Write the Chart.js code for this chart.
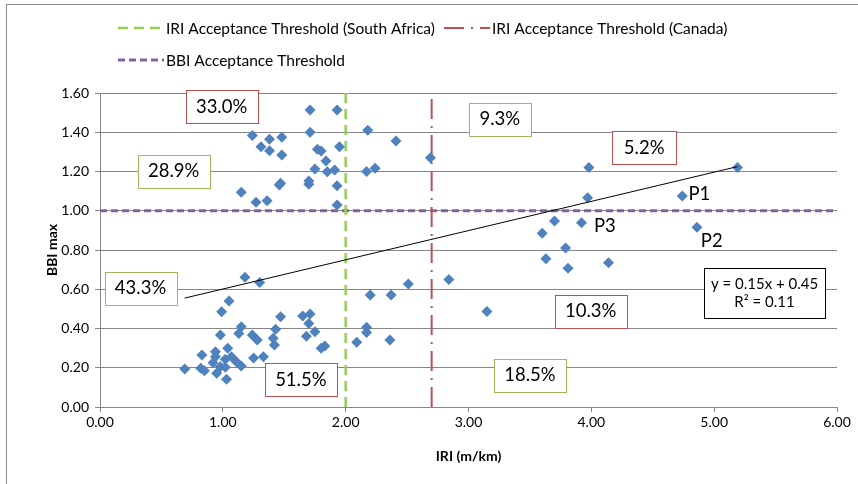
<!DOCTYPE html>
<html>
<head>
<meta charset="utf-8">
<script src="https://cdn.jsdelivr.net/npm/chart.js@4.4.0/dist/chart.umd.min.js"></script>
<style>
body { margin: 0; background: #fff; }
#wrap { position: relative; width: 858px; height: 484px; overflow: hidden; }
#frame { position: absolute; left: 6px; top: 4px; width: 900px; height: 600px; border: 1px solid #8c8c8c; }
#chart { position: absolute; left: 0; top: 0; }
</style>
</head>
<body>
<div id="wrap"><div id="frame"></div><canvas id="chart" width="858" height="484"></canvas></div>
<script>
// measured points (IRI, BBI max)
let iriValues = [
    1.24, 1.71, 1.93, 1.71, 1.38, 1.48, 1.31, 1.38, 1.48, 1.77, 1.80, 1.95, 1.84, 1.75, 1.85, 1.91,
    1.70, 1.70, 1.46, 1.47, 1.93, 1.15, 1.27, 1.36, 1.93,
    2.18, 2.41, 2.17, 2.24, 2.69,
    3.98, 3.97, 5.19, 4.74,
    3.70, 3.92, 3.60, 4.86, 3.79, 3.63, 3.81, 4.14,
    2.84, 3.15, 2.51, 2.20, 2.37, 2.17, 2.17, 2.09, 2.36,
    1.18, 1.30, 1.05, 0.99, 1.47, 1.65, 1.71, 1.70, 1.15, 1.43, 0.98, 1.13, 1.24, 1.28, 1.41, 1.42,
    1.75, 1.68, 1.83, 1.80, 0.83, 0.94, 1.04, 1.02, 0.94, 1.07, 0.92, 1.11, 0.98, 0.69, 0.82, 0.85,
    1.15, 0.95, 1.03, 1.25, 1.33, 1.02
];
let bbiValues = [
    1.383, 1.513, 1.513, 1.400, 1.364, 1.374, 1.326, 1.306, 1.284, 1.313, 1.304, 1.326, 1.253, 1.213, 1.199, 1.208,
    1.152, 1.135, 1.131, 1.140, 1.128, 1.094, 1.043, 1.051, 1.029,
    1.410, 1.355, 1.200, 1.216, 1.270,
    1.220, 1.066, 1.220, 1.075,
    0.948, 0.939, 0.885, 0.916, 0.810, 0.756, 0.707, 0.735,
    0.650, 0.486, 0.627, 0.571, 0.571, 0.406, 0.379, 0.330, 0.341,
    0.661, 0.635, 0.540, 0.485, 0.460, 0.464, 0.474, 0.426, 0.409, 0.396, 0.367, 0.375, 0.367, 0.341, 0.350, 0.316,
    0.384, 0.360, 0.311, 0.299, 0.265, 0.282, 0.299, 0.243, 0.256, 0.256, 0.226, 0.231, 0.205, 0.194, 0.197, 0.185,
    0.209, 0.172, 0.141, 0.250, 0.256, 0.202
];

// linear trend as drawn (ends of the fitted line)
let trendIri = [0.69, 5.19];
let trendBbi = [0.555, 1.225];
let trendText = ['y = 0.15x + 0.45', 'R² = 0.11'];

// thresholds
let saIri = 2.0;
let canadaIri = 2.7;
let bbiLimit = 1.0;

// share of sections
let shareText = ['33.0%', '28.9%', '43.3%', '51.5%', '9.3%', '5.2%', '10.3%', '18.5%'];
let shareKind = ['red', 'green', 'green', 'red', 'green', 'red', 'red', 'green'];

let pointNames = ['P1', 'P2', 'P3'];

// where the boxes and names sit (data units) and how wide the boxes are
let shareAt = [[0.99, 1.529, 72], [0.60, 1.200, 72], [0.33, 0.606, 72], [1.635, 0.138, 72],
               [3.255, 1.465, 62], [4.43, 1.320, 64], [3.995, 0.489, 72], [3.50, 0.163, 72]];
let nameAt = [[4.88, 1.085], [4.98, 0.846], [4.11, 0.920]];
let trendAt = [5.41, 0.58];

let font = 'Lato';
let boxColors = { red: '#C0504D', green: '#9BBB59' };

function toPoints(xs, ys) {
    let pts = [];
    for (let i = 0; i < xs.length; i++)
        pts.push({ x: xs[i], y: ys[i] });
    return pts;
}

function drawBox(ctx, cx, cy, w, h, border, lines, size) {
    ctx.save();
    ctx.fillStyle = '#fff';
    ctx.fillRect(Math.round(cx - w / 2) + 0.5, Math.round(cy - h / 2) + 0.5, w, h);
    ctx.strokeStyle = border;
    ctx.lineWidth = 1;
    ctx.strokeRect(Math.round(cx - w / 2) + 0.5, Math.round(cy - h / 2) + 0.5, w, h);
    ctx.fillStyle = '#000';
    ctx.font = size + 'px ' + font;
    ctx.textAlign = 'center';
    ctx.textBaseline = 'middle';
    let lh = size * 1.2;
    for (let i = 0; i < lines.length; i++)
        ctx.fillText(lines[i], cx, cy + (i - (lines.length - 1) / 2) * lh);
    ctx.restore();
}

let extras = {
    id: 'extras',
    afterDraw(chart) {
        let ctx = chart.ctx;
        let xs = chart.scales.x, ys = chart.scales.y;

        // legend
        let legend = [
            { ds: 2, x: 118, y: 28 },
            { ds: 3, x: 444, y: 28 },
            { ds: 4, x: 118, y: 60 }
        ];
        ctx.save();
        ctx.font = '15.5px ' + font;
        ctx.textBaseline = 'middle';
        legend.forEach((item) => {
            let ds = chart.data.datasets[item.ds];
            ctx.save();
            ctx.strokeStyle = ds.borderColor;
            ctx.lineWidth = ds.borderWidth;
            ctx.setLineDash(ds.borderDash);
            ctx.beginPath();
            ctx.moveTo(item.x, item.y);
            ctx.lineTo(item.x + 46, item.y);
            ctx.stroke();
            ctx.restore();
            ctx.fillStyle = '#000';
            ctx.fillText(ds.label, item.x + 48, item.y + 1);
        });
        ctx.restore();

        // section shares
        for (let i = 0; i < shareText.length; i++) {
            let p = shareAt[i];
            drawBox(ctx, xs.getPixelForValue(p[0]), ys.getPixelForValue(p[1]), p[2], 33,
                boxColors[shareKind[i]], [shareText[i]], 18.5);
        }

        // trend equation
        drawBox(ctx, xs.getPixelForValue(trendAt[0]), ys.getPixelForValue(trendAt[1]), 121, 50,
            '#000', trendText, 15);

        // point names
        ctx.save();
        ctx.font = '18.5px ' + font;
        ctx.fillStyle = '#000';
        ctx.textAlign = 'center';
        ctx.textBaseline = 'middle';
        for (let i = 0; i < pointNames.length; i++)
            ctx.fillText(pointNames[i], xs.getPixelForValue(nameAt[i][0]), ys.getPixelForValue(nameAt[i][1]));
        ctx.restore();
    }
};

function drawChart() {
    let ctx = document.getElementById('chart').getContext('2d');
    let tickFont = { family: font, size: 14 };
    let titleFont = { family: font, size: 14, weight: 'bold' };

    let chart = new Chart(ctx, {
        type: 'scatter',
        data: {
            datasets: [{
                label: 'Linear (BBI max)',
                type: 'line',
                data: toPoints(trendIri, trendBbi),
                borderColor: '#000',
                borderWidth: 1,
                pointRadius: 0,
                fill: false
            }, {
                label: 'BBI max',
                data: toPoints(iriValues, bbiValues),
                pointStyle: 'rectRot',
                pointRadius: 5.5,
                backgroundColor: '#4F81BD',
                borderColor: '#4F81BD',
                borderWidth: 0
            }, {
                label: 'IRI Acceptance Threshold (South Africa)',
                type: 'line',
                data: toPoints([saIri, saIri], [0, 1.6]),
                borderColor: '#92D050',
                borderWidth: 2.5,
                borderDash: [10, 6],
                pointRadius: 0,
                fill: false
            }, {
                label: 'IRI Acceptance Threshold (Canada)',
                type: 'line',
                data: toPoints([canadaIri, canadaIri], [0, 1.6]),
                borderColor: '#C0504D',
                borderWidth: 2,
                borderDash: [20, 7, 2, 7],
                pointRadius: 0,
                fill: false
            }, {
                label: 'BBI Acceptance Threshold',
                type: 'line',
                data: toPoints([0, 6], [bbiLimit, bbiLimit]),
                borderColor: '#8064A2',
                borderWidth: 3,
                borderDash: [7, 4],
                pointRadius: 0,
                fill: false
            }]
        },
        options: {
            responsive: false,
            animation: false,
            layout: { padding: { left: 44, right: 21, top: 93, bottom: 19 } },
            plugins: {
                legend: { display: false },
                tooltip: { enabled: false }
            },
            scales: {
                x: {
                    type: 'linear',
                    min: 0,
                    max: 6,
                    afterFit: (s) => { s.height = 58; },
                    ticks: { stepSize: 1, callback: (v) => v.toFixed(2), font: tickFont, color: '#000', padding: 2, maxRotation: 0 },
                    grid: { drawOnChartArea: false, tickLength: 5, color: '#868686' },
                    border: { color: '#868686' },
                    title: { display: true, text: 'IRI (m/km)', font: titleFont, color: '#000', padding: 0 }
                },
                y: {
                    min: 0,
                    max: 1.6,
                    afterFit: (s) => { s.width = 56; },
                    ticks: { stepSize: 0.2, callback: (v) => v.toFixed(2), font: tickFont, color: '#000', padding: 6 },
                    grid: { tickLength: 5, color: '#868686' },
                    border: { color: '#868686' },
                    title: { display: true, text: 'BBI max', font: titleFont, color: '#000', padding: 0 }
                }
            }
        },
        plugins: [extras]
    });
}

drawChart();
</script>
</body>
</html>
